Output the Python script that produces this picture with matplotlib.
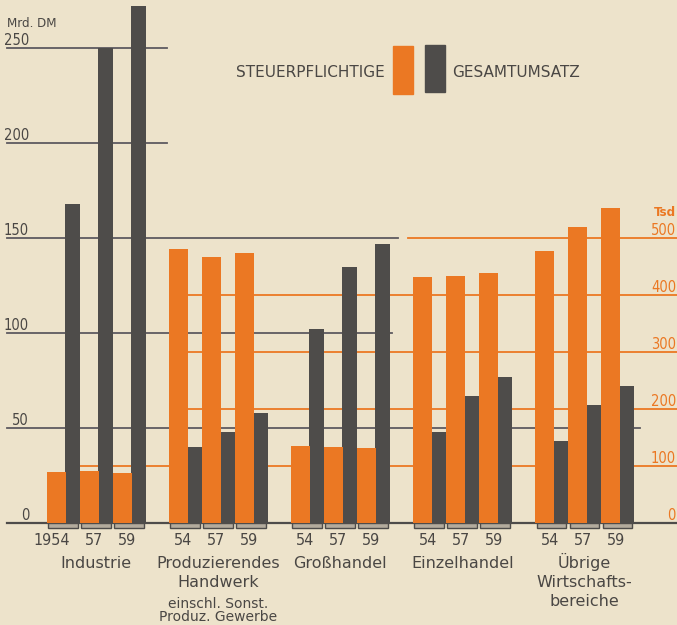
###############################################################################
### Steuerpflichtige und Gesamtumsatz 1954 / 57 / 59
###############################################################################
import matplotlib
matplotlib.use('Agg')
import matplotlib.pyplot as plt
import matplotlib.transforms as mtransforms
import numpy as np

###############################################################################
### Data
###############################################################################
categories = ['Industrie', 'Produzierendes', 'Großhandel', 'Einzelhandel', 'Übrige']
extra_lines = [[], ['Handwerk'], [], [], ['Wirtschafts-', 'bereiche']]
small_lines = [[], ['einschl. Sonst.', 'Produz. Gewerbe'], [], [], []]
years = [['1954', '57', '59'], ['54', '57', '59'], ['54', '57', '59'],
         ['54', '57', '59'], ['54', '57', '59']]

# Gesamtumsatz, Mrd. DM (left scale)
gesamtumsatz = [[168, 250, 272],
                [40, 48, 58],
                [102, 135, 147],
                [48, 67, 77],
                [43, 62, 72]]
# Steuerpflichtige, Tsd (right scale)
steuerpflichtige = [[90, 91, 88],
                    [481, 467, 474],
                    [135, 133, 132],
                    [432, 433, 439],
                    [477, 519, 553]]

left_ticks = [0, 50, 100, 150, 200, 250]
right_ticks = [0, 100, 200, 300, 400, 500]

###############################################################################
### Style
###############################################################################
PAPER = '#EDE3CB'
ORANGE = '#EB7823'
DARK = '#4E4C4A'
GRID = '#5E5A60'
TEXT = '#4A4744'
NUM = dict(family='DejaVu Sans', stretch='condensed')
TSD_TO_MRD = 150.0 / 500.0     # 500 Tsd sits on the 150 Mrd line

W_PX, H_PX = 677, 625
ZERO_PX, PX_PER_MRD = 523.0, 1.9
SLOT_PX = 33.0
X_LEFT = -96.0 / SLOT_PX


def ypx(p):
    # pixel row -> left-axis value
    return (ZERO_PX - p) / PX_PER_MRD


fig = plt.figure(figsize=(W_PX / 100, H_PX / 100), dpi=100)
fig.patch.set_facecolor(PAPER)
ax = fig.add_axes([0, 0, 1, 1])
ax.set_facecolor(PAPER)
ax.set_xlim(X_LEFT, X_LEFT + W_PX / SLOT_PX)
ax.set_ylim(ypx(H_PX), ypx(0))
ax.axis('off')
axy = mtransforms.blended_transform_factory(ax.transAxes, ax.transData)

###############################################################################
### Grid lines (extents in figure pixels)
###############################################################################
dark_extent = {50: (7, 640), 100: (7, 392), 150: (7, 398), 200: (7, 167), 250: (7, 167)}
orange_extent = {100: (80, 677), 200: (188, 677), 300: (188, 677), 400: (188, 677),
                 500: (408, 677)}
for v, (a, b) in dark_extent.items():
    ax.axhline(v, xmin=a / W_PX, xmax=b / W_PX, color=GRID, lw=1.3, zorder=1)
for v, (a, b) in orange_extent.items():
    ax.axhline(v * TSD_TO_MRD, xmin=a / W_PX, xmax=b / W_PX, color=ORANGE, lw=1.3, zorder=1)
ax.axhline(0, xmin=7 / W_PX, xmax=1, color=DARK, lw=1.6, zorder=1)

###############################################################################
### Bars
###############################################################################
group_gap = 3.7
slot_x = np.array([[g * group_gap + i - 1 for i in range(3)] for g in range(len(categories))])

xs = slot_x.ravel()
ax.bar(xs - 0.5, np.ravel(steuerpflichtige) * TSD_TO_MRD, width=0.58, align='edge',
       color=ORANGE, zorder=3)
ax.bar(xs + 0.06, np.ravel(gesamtumsatz), width=0.44, align='edge',
       color=DARK, zorder=2)
# little trays under every pair
ax.bar(xs, -2.6, width=0.9, bottom=0, color='#B3AB9D', edgecolor=DARK, lw=1, zorder=2)

###############################################################################
### Labels
###############################################################################
for v in left_ticks:
    ax.text(29 / W_PX, v + 1.6, str(v), transform=axy, ha='right', va='baseline',
            color=TEXT, fontsize=10.5, **NUM)
ax.text(7 / W_PX, ypx(27), 'Mrd. DM', transform=axy, ha='left', va='baseline',
        color=TEXT, fontsize=9.5, **NUM)

for v in right_ticks:
    ax.text(676 / W_PX, v * TSD_TO_MRD + 1.6, str(v), transform=axy, ha='right',
            va='baseline', color=ORANGE, fontsize=10.5, **NUM)
ax.text(676 / W_PX, ypx(216), 'Tsd', transform=axy, ha='right', va='baseline',
        color=ORANGE, fontsize=9.5, fontweight='bold', **NUM)

for g in range(len(categories)):
    for i in range(3):
        if years[g][i] == '1954':
            ax.text(slot_x[g][i] + 0.2, ypx(545), years[g][i], ha='right', va='baseline',
                    color=TEXT, fontsize=11.5, **NUM)
        else:
            ax.text(slot_x[g][i] - 0.05, ypx(545), years[g][i], ha='center', va='baseline',
                    color=TEXT, fontsize=11.5, **NUM)
    cx = slot_x[g][1]
    lines = [categories[g]] + extra_lines[g]
    for k, s in enumerate(lines):
        ax.text(cx, ypx(568 + 19 * k), s, ha='center', va='baseline', color=TEXT,
                fontsize=11.5)
    for k, s in enumerate(small_lines[g]):
        ax.text(cx, ypx(608 + 13 * k), s, ha='center', va='baseline', color=TEXT,
                fontsize=10)

###############################################################################
### Legend
###############################################################################
ax.text(385 / W_PX, ypx(77), 'STEUERPFLICHTIGE', transform=axy, ha='right',
        va='baseline', color=TEXT, fontsize=11)
ax.text(452 / W_PX, ypx(77), 'GESAMTUMSATZ', transform=axy, ha='left',
        va='baseline', color=TEXT, fontsize=11)
ax.add_patch(plt.Rectangle((393 / W_PX, ypx(94)), 20 / W_PX, 48 / PX_PER_MRD,
                           transform=axy, color=ORANGE, zorder=3))
ax.add_patch(plt.Rectangle((425 / W_PX, ypx(92)), 20 / W_PX, 47 / PX_PER_MRD,
                           transform=axy, color=DARK, zorder=3))

fig.savefig('out.png', dpi=100, facecolor=PAPER)
